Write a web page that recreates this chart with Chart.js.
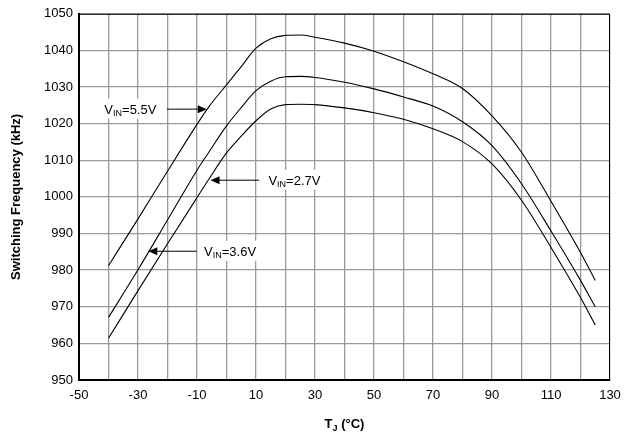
<!DOCTYPE html>
<html>
<head>
<meta charset="utf-8">
<script src="https://cdn.jsdelivr.net/npm/chart.js@4.4.1/dist/chart.umd.min.js"></script>
<style>
  html, body { margin: 0; padding: 0; background: #fff; }
</style>
</head>
<body>
<canvas id="freqChart" width="637" height="437"></canvas>
<script>
// junction temperature (°C)
const temps = [-40, -30, -20, -10, -6, 0, 5, 10, 15, 20, 25, 30, 40, 50, 60, 70, 80, 90, 100, 110, 120, 125];
// switching frequency (kHz) per input voltage
const freq55 = [981.2, 994.0, 1007.0, 1019.8, 1024.6, 1030.6, 1035.6, 1040.6, 1043.2, 1044.1, 1044.2, 1043.6, 1042.0, 1039.8, 1036.9, 1033.6, 1029.6, 1022.1, 1012.2, 998.8, 984.8, 977.2];
const freq36 = [967.1, 980.1, 993.7, 1007.3, 1012.2, 1019.4, 1024.4, 1029.0, 1031.6, 1032.8, 1032.9, 1032.6, 1031.3, 1029.5, 1027.3, 1024.8, 1020.5, 1014.0, 1003.6, 990.7, 977.2, 970.0];
const freq27 = [961.4, 974.4, 987.2, 999.8, 1004.8, 1012.0, 1016.6, 1020.8, 1024.0, 1025.2, 1025.3, 1025.2, 1024.3, 1023.0, 1021.2, 1018.6, 1015.1, 1009.0, 999.1, 986.2, 972.5, 965.0];
const seriesNames = ['5.5V', '3.6V', '2.7V'];
const xTickLabels = [-50, -30, -10, 10, 30, 50, 70, 90, 110, 130];

const FONT = '"Liberation Sans", Arial, sans-serif';

// callouts: text start, arrow start and arrow tip, in data units
const callouts = [
  { name: '5.5V', y: 1024.1, textX: -41.4, arrowFrom: -20.2, arrowTo: -6.7 },
  { name: '2.7V', y: 1004.7, textX: 14.2, arrowFrom: 11.1, arrowTo: -5.4 },
  { name: '3.6V', y: 985.3, textX: -7.6, arrowFrom: -10.1, arrowTo: -26.5 }
];

function toPoints(vals) {
  return temps.map((t, i) => ({ x: t, y: vals[i] }));
}

const calloutPlugin = {
  id: 'callouts',
  afterDatasetsDraw(chart) {
    const ctx = chart.ctx;
    const xs = chart.scales.x, ys = chart.scales.y;
    const area = chart.chartArea;
    ctx.save();

    // frame
    ctx.strokeStyle = '#000';
    ctx.lineWidth = 1;
    ctx.beginPath();
    ctx.moveTo(area.left, area.top + 0.5);
    ctx.lineTo(area.right - 0.5, area.top + 0.5);
    ctx.lineTo(area.right - 0.5, area.bottom);
    ctx.stroke();

    callouts.forEach(c => {
      const py = ys.getPixelForValue(c.y);
      const tx = xs.getPixelForValue(c.textX);
      ctx.font = '13px ' + FONT;
      const w1 = ctx.measureText('V').width;
      ctx.font = '9px ' + FONT;
      const w2 = ctx.measureText('IN').width;
      ctx.font = '13px ' + FONT;
      const w3 = ctx.measureText('=' + c.name).width;
      const total = w1 + w2 + w3;

      // white box behind the text
      ctx.fillStyle = '#fff';
      ctx.fillRect(tx - 4, py - 10, total + 8, 20);

      ctx.fillStyle = '#000';
      ctx.textBaseline = 'alphabetic';
      ctx.textAlign = 'left';
      ctx.font = '13px ' + FONT;
      ctx.fillText('V', tx, py + 5);
      ctx.font = '9px ' + FONT;
      ctx.fillText('IN', tx + w1, py + 7);
      ctx.font = '13px ' + FONT;
      ctx.fillText('=' + c.name, tx + w1 + w2, py + 5);

      // arrow
      const ax0 = xs.getPixelForValue(c.arrowFrom);
      const ax1 = xs.getPixelForValue(c.arrowTo);
      const dir = ax1 > ax0 ? 1 : -1;
      ctx.strokeStyle = '#000';
      ctx.lineWidth = 1;
      ctx.beginPath();
      ctx.moveTo(ax0, py + 0.5);
      ctx.lineTo(ax1 - dir * 6, py + 0.5);
      ctx.stroke();
      ctx.beginPath();
      ctx.moveTo(ax1, py + 0.5);
      ctx.lineTo(ax1 - dir * 9, py - 3.5);
      ctx.lineTo(ax1 - dir * 9, py + 4.5);
      ctx.closePath();
      ctx.fill();
    });

    // x axis title with subscript
    const cx = (area.left + area.right) / 2;
    const ty = 428;
    ctx.font = 'bold 13px ' + FONT;
    const a = ctx.measureText('T').width;
    ctx.font = 'bold 9px ' + FONT;
    const b = ctx.measureText('J').width;
    ctx.font = 'bold 13px ' + FONT;
    const d = ctx.measureText(' (°C)').width;
    let sx = cx - (a + b + d) / 2;
    ctx.fillText('T', sx, ty);
    ctx.font = 'bold 9px ' + FONT;
    ctx.fillText('J', sx + a, ty + 3);
    ctx.font = 'bold 13px ' + FONT;
    ctx.fillText(' (°C)', sx + a + b, ty);

    ctx.restore();
  }
};

const lineStyle = {
  borderColor: '#000',
  borderWidth: 1.1,
  pointRadius: 0,
  fill: false,
  cubicInterpolationMode: 'monotone'
};

new Chart(document.getElementById('freqChart'), {
  type: 'line',
  data: {
    datasets: [
      Object.assign({ label: 'VIN=' + seriesNames[0], data: toPoints(freq55) }, lineStyle),
      Object.assign({ label: 'VIN=' + seriesNames[1], data: toPoints(freq36) }, lineStyle),
      Object.assign({ label: 'VIN=' + seriesNames[2], data: toPoints(freq27) }, lineStyle)
    ]
  },
  options: {
    responsive: false,
    animation: false,
    events: [],
    layout: { padding: { top: 10, right: 27, left: 0, bottom: 0 } },
    plugins: { legend: { display: false }, tooltip: { enabled: false } },
    scales: {
      x: {
        type: 'linear',
        min: -50,
        max: 130,
        afterFit: s => { s.height = 57; },
        border: { display: true, color: '#000', width: 2 },
        grid: { color: '#9a9a9a', lineWidth: 1.3, drawTicks: false },
        ticks: {
          stepSize: 10,
          padding: 8,
          color: '#000',
          maxRotation: 0,
          autoSkip: false,
          font: { family: FONT, size: 13 },
          callback: v => xTickLabels.includes(v) ? String(v) : ''
        },
        title: { display: false }
      },
      y: {
        min: 950,
        max: 1050,
        afterFit: s => { s.width = 79; },
        border: { display: true, color: '#000', width: 2 },
        grid: { color: '#9a9a9a', lineWidth: 1.3, drawTicks: false },
        ticks: {
          stepSize: 10,
          padding: 6,
          color: '#000',
          font: { family: FONT, size: 13 },
          callback: v => String(v)
        },
        title: {
          display: true,
          text: 'Switching Frequency (kHz)',
          color: '#000',
          padding: { top: 9, bottom: 0 },
          font: { family: FONT, size: 13, weight: 'bold' }
        }
      }
    }
  },
  plugins: [calloutPlugin]
});
</script>
</body>
</html>
